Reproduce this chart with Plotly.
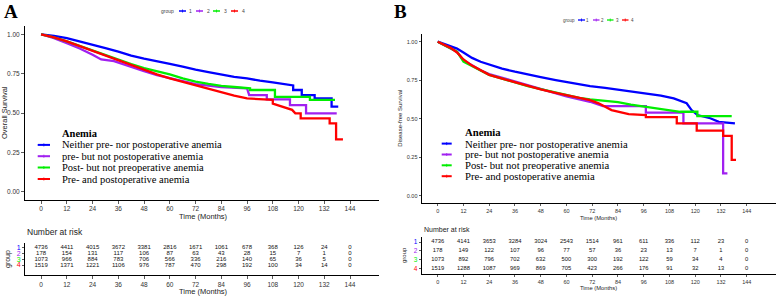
import plotly.graph_objects as go

W, H = 777, 298

# ---------------- data ----------------
groups = ["1", "2", "3", "4"]
colors = ["#0000FF", "#A020F0", "#00EE00", "#FF0000"]
legend_labels = ["Neither pre- nor postoperative anemia",
                 "pre- but not postoperative anemia",
                 "Post- but not preoperative anemia",
                 "Pre- and postoperative anemia"]
tick_months = [0, 12, 24, 36, 48, 60, 72, 84, 96, 108, 120, 132, 144]
surv_ticks = [0.0, 0.25, 0.5, 0.75, 1.0]
surv_tick_text = ["0.00", "0.25", "0.50", "0.75", "1.00"]

# Panel A: overall survival (time, survival)
os_t1 = [0, 6, 12, 18, 24, 30, 36, 42, 48, 54, 60, 66, 72, 78, 84, 90, 96, 102, 108, 114, 117.5, 117.5, 121.5, 121.5, 127.5, 127.5, 135.4, 135.4, 138.5]
os_s1 = [1.0, 0.99, 0.975, 0.955, 0.935, 0.912, 0.89, 0.865, 0.845, 0.83, 0.812, 0.795, 0.775, 0.76, 0.745, 0.73, 0.72, 0.705, 0.695, 0.68, 0.675, 0.646, 0.646, 0.614, 0.614, 0.593, 0.593, 0.54, 0.54]
os_t2 = [0, 6, 12, 18, 24, 28, 34, 38, 42, 48, 54, 60, 66, 72, 84, 96, 97, 105.2, 105.2, 116, 116, 123.5, 123.5, 137.8]
os_s2 = [1.0, 0.975, 0.943, 0.91, 0.87, 0.84, 0.83, 0.81, 0.79, 0.765, 0.74, 0.72, 0.70, 0.683, 0.665, 0.657, 0.614, 0.614, 0.587, 0.587, 0.55, 0.55, 0.498, 0.498]
os_t3 = [0, 6, 12, 18, 24, 30, 36, 42, 48, 54, 60, 66, 72, 78, 84, 90, 97.4, 97.4, 109, 109, 125.3, 125.3, 137]
os_s3 = [1.0, 0.98, 0.955, 0.925, 0.895, 0.868, 0.84, 0.81, 0.785, 0.765, 0.745, 0.72, 0.70, 0.685, 0.672, 0.665, 0.657, 0.646, 0.646, 0.603, 0.603, 0.583, 0.583]
os_t4 = [0, 6, 12, 18, 24, 30, 36, 42, 48, 54, 60, 66, 72, 78, 84, 90, 96, 102, 108, 108, 112, 117, 118.5, 121, 121, 134.5, 134.5, 137.5, 137.5, 140.7]
os_s4 = [1.0, 0.98, 0.955, 0.925, 0.895, 0.865, 0.835, 0.80, 0.775, 0.745, 0.72, 0.698, 0.68, 0.655, 0.635, 0.61, 0.593, 0.588, 0.583, 0.56, 0.54, 0.52, 0.498, 0.498, 0.466, 0.466, 0.434, 0.434, 0.333, 0.333]

# Panel B: disease-free survival
dfs_t1 = [0, 3, 6, 9, 12, 16, 20, 24, 30, 36, 42, 48, 55, 60, 66, 71, 78, 84, 90, 97, 104, 110, 116, 118.3, 121, 127, 131, 138.5]
dfs_s1 = [1.0, 0.985, 0.97, 0.955, 0.93, 0.895, 0.87, 0.85, 0.825, 0.805, 0.785, 0.77, 0.751, 0.738, 0.722, 0.712, 0.70, 0.688, 0.678, 0.665, 0.65, 0.632, 0.60, 0.556, 0.524, 0.503, 0.48, 0.47]
dfs_t2 = [0, 3, 6, 9, 12, 16, 20, 24, 30, 36, 42, 48, 55, 60, 66, 71, 77, 97, 97, 114.5, 114.5, 133, 133, 135]
dfs_s2 = [1.0, 0.98, 0.96, 0.935, 0.88, 0.845, 0.815, 0.79, 0.765, 0.74, 0.715, 0.69, 0.665, 0.645, 0.625, 0.61, 0.582, 0.582, 0.539, 0.539, 0.47, 0.47, 0.145, 0.145]
dfs_t3 = [0, 3, 6, 9, 12, 14, 17, 20, 24, 30, 36, 42, 48, 55, 60, 66, 71, 78, 84, 90, 97, 103, 107, 113, 121, 121, 137]
dfs_s3 = [1.0, 0.98, 0.96, 0.935, 0.87, 0.855, 0.835, 0.81, 0.785, 0.76, 0.735, 0.712, 0.692, 0.669, 0.655, 0.635, 0.626, 0.615, 0.607, 0.592, 0.578, 0.565, 0.556, 0.545, 0.545, 0.517, 0.517]
dfs_t4 = [0, 3, 6, 9, 12, 16, 20, 24, 30, 36, 42, 48, 55, 60, 66, 71, 75, 81, 89, 97, 97, 111.4, 111.4, 120.7, 120.7, 133, 133, 137, 137, 139]
dfs_s4 = [1.0, 0.98, 0.96, 0.93, 0.885, 0.845, 0.815, 0.785, 0.76, 0.735, 0.712, 0.69, 0.668, 0.652, 0.632, 0.62, 0.60, 0.556, 0.53, 0.524, 0.51, 0.51, 0.47, 0.47, 0.422, 0.422, 0.388, 0.388, 0.232, 0.232]

# Numbers at risk
os_risk1 = [4736, 4411, 4015, 3672, 3381, 2816, 1671, 1061, 678, 368, 126, 24, 0]
os_risk2 = [178, 154, 131, 117, 106, 87, 63, 43, 28, 15, 7, 1, 0]
os_risk3 = [1073, 966, 884, 783, 706, 566, 336, 216, 140, 65, 36, 5, 0]
os_risk4 = [1519, 1371, 1221, 1106, 976, 787, 470, 298, 192, 100, 34, 14, 0]
dfs_risk1 = [4736, 4141, 3653, 3284, 3024, 2543, 1514, 961, 611, 336, 112, 23, 0]
dfs_risk2 = [178, 149, 122, 107, 96, 77, 57, 36, 23, 13, 7, 1, 0]
dfs_risk3 = [1073, 892, 796, 702, 632, 500, 300, 192, 122, 59, 34, 4, 0]
dfs_risk4 = [1519, 1288, 1087, 969, 869, 705, 423, 266, 176, 91, 32, 13, 0]

# ---------------- helpers ----------------
SANS = "Liberation Sans, Arial, sans-serif"
SERIF = "Liberation Serif, Times New Roman, serif"


def px(x):
    return x / W


def py(y):
    return 1 - y / H


fig = go.Figure()

os_curves = [(os_t1, os_s1), (os_t2, os_s2), (os_t3, os_s3), (os_t4, os_s4)]
dfs_curves = [(dfs_t1, dfs_s1), (dfs_t2, dfs_s2), (dfs_t3, dfs_s3), (dfs_t4, dfs_s4)]
os_risk = [os_risk1, os_risk2, os_risk3, os_risk4]
dfs_risk = [dfs_risk1, dfs_risk2, dfs_risk3, dfs_risk4]

for (t, s), c in zip(os_curves, colors):
    fig.add_trace(go.Scatter(x=t, y=s, mode="lines", line=dict(color=c, width=2.3),
                             xaxis="x", yaxis="y", showlegend=False, hoverinfo="skip"))
for (t, s), c in zip(dfs_curves, colors):
    fig.add_trace(go.Scatter(x=t, y=s, mode="lines", line=dict(color=c, width=2.3),
                             xaxis="x3", yaxis="y3", showlegend=False, hoverinfo="skip"))

# risk tables: group 1 on top (row 4) down to group 4 (row 1)
for i, vals in enumerate(os_risk):
    fig.add_trace(go.Scatter(x=tick_months, y=[4 - i] * len(vals), mode="text",
                             text=[str(v) for v in vals],
                             textfont=dict(family=SANS, size=6, color="#111"),
                             xaxis="x2", yaxis="y2", showlegend=False, hoverinfo="skip"))
for i, vals in enumerate(dfs_risk):
    fig.add_trace(go.Scatter(x=tick_months, y=[4 - i] * len(vals), mode="text",
                             text=[str(v) for v in vals],
                             textfont=dict(family=SANS, size=5.8, color="#111"),
                             xaxis="x4", yaxis="y4", showlegend=False, hoverinfo="skip"))

axis_common = dict(showgrid=False, zeroline=False, showline=True, linecolor="black",
                   linewidth=1, ticks="outside", ticklen=3, tickcolor="#333", tickwidth=0.8,
                   automargin=False)
axis_b = {**axis_common, "ticklen": 2}

group_ticktext = ['<span style="color:%s">%s</span>' % (c, g) for c, g in zip(colors, groups)]

fig.update_layout(
    width=W, height=H, margin=dict(l=0, r=0, t=0, b=0, pad=0, autoexpand=False),
    paper_bgcolor="white", plot_bgcolor="white", showlegend=False,
    font=dict(family=SANS, color="#333"),
    xaxis=dict(domain=[px(25), px(379)], range=[-7.5, 157.5], tickvals=tick_months,
               tickfont=dict(size=6.5, color="#333"), anchor="y", **axis_common),
    yaxis=dict(domain=[py(199.6), py(26.4)], range=[-0.05, 1.05], tickvals=surv_ticks,
               ticktext=surv_tick_text, tickfont=dict(size=6.5, color="#333"), anchor="x", **axis_common),
    xaxis2=dict(domain=[px(25), px(379)], range=[-7.5, 157.5], tickvals=tick_months,
                tickfont=dict(size=6.5, color="#333"), anchor="y2", **axis_common),
    yaxis2=dict(domain=[py(275), py(243)], range=[-0.7, 4.75], tickvals=[4, 3, 2, 1],
                ticktext=group_ticktext, tickfont=dict(size=7), anchor="x2",
                **{**axis_common, "ticklen": 2}),
    xaxis3=dict(domain=[px(421.6), px(775.7)], range=[-7.5, 157.5], tickvals=tick_months,
                tickfont=dict(size=5.5, color="#333"), anchor="y3", **axis_b),
    yaxis3=dict(domain=[py(203.4), py(34)], range=[-0.05, 1.05], tickvals=surv_ticks,
                ticktext=surv_tick_text, tickfont=dict(size=5.5, color="#333"), anchor="x3", **axis_b),
    xaxis4=dict(domain=[px(421.6), px(775.7)], range=[-7.5, 157.5], tickvals=tick_months,
                tickfont=dict(size=5.5, color="#333"), anchor="y4", **axis_b),
    yaxis4=dict(domain=[py(274.3), py(236.7)], range=[0.35, 4.6], tickvals=[4, 3, 2, 1],
                ticktext=group_ticktext, tickfont=dict(size=6.5), anchor="x4", **axis_b),
)

annotations = []
shapes = []


def ann(x, y, text, size, family=SANS, color="#222", xanchor="center", angle=0, bold=False):
    if bold:
        text = "<b>%s</b>" % text
    annotations.append(dict(x=px(x), y=py(y), xref="paper", yref="paper", text=text,
                            showarrow=False, xanchor=xanchor, yanchor="middle",
                            textangle=angle, font=dict(family=family, size=size, color=color)))


def key(x0, x1, y, color, width=2):
    shapes.append(dict(type="line", xref="paper", yref="paper", x0=px(x0), x1=px(x1),
                       y0=py(y), y1=py(y), line=dict(color=color, width=width)))
    xm = (x0 + x1) / 2
    shapes.append(dict(type="line", xref="paper", yref="paper", x0=px(xm), x1=px(xm),
                       y0=py(y - 1.5), y1=py(y + 1.5), line=dict(color=color, width=0.8)))


# panel letters
ann(11, 12, "A", 19, family=SERIF, color="black", bold=True)
ann(400, 11, "B", 19, family=SERIF, color="black", bold=True)

# axis titles
ann(5, 113, "Overall Survival", 7.5, angle=-90)
ann(204, 216.5, "Time (Months)", 7.5)
ann(400, 118.7, "Disease-free Survival", 6, angle=-90)
ann(598.6, 217.5, "Time (Months)", 5.8)

# risk table titles
ann(25, 231.5, "Number at risk", 8.5, xanchor="left")
ann(8, 259, "group", 7, angle=-90)
ann(204, 291.5, "Time (Months)", 7.5)
ann(421.7, 229.3, "Number at risk", 7, xanchor="left")
ann(404, 255, "group", 6, angle=-90)
ann(598.6, 288, "Time (Months)", 5.8)

# top legends
ann(167.5, 11, "group", 5, color="#444")
top_a = [(179, 186, 190.5), (196, 203, 208), (213, 220, 225.5), (231, 238, 243.3)]
for (x0, x1, xt), c, g in zip(top_a, colors, groups):
    key(x0, x1, 11, c, 1.5)
    ann(xt, 11, g, 5, color="#444")
ann(569, 20, "group", 4.5, color="#444")
top_b = [(578, 585, 587.8), (593, 599.5, 602.7), (607, 613.5, 617.7), (622, 628.5, 632.3)]
for (x0, x1, xt), c, g in zip(top_b, colors, groups):
    key(x0, x1, 20, c, 1.3)
    ann(xt, 20, g, 4.5, color="#444")

# inner legends
ann(60, 133.8, "Anemia", 10.5, family=SERIF, color="black", xanchor="left", bold=True)
for yk, c, lab in zip([144.9, 156.2, 167.5, 179], colors, legend_labels):
    key(37.7, 50, yk, c, 2)
    ann(60, yk, lab, 10.5, family=SERIF, color="black", xanchor="left")
ann(462.7, 132.2, "Anemia", 10.7, family=SERIF, color="black", xanchor="left", bold=True)
for yk, c, lab in zip([143.6, 154.5, 165.3, 176.2], colors, legend_labels):
    key(441.7, 451.7, yk, c, 2)
    ann(462.7, yk, lab, 10.7, family=SERIF, color="black", xanchor="left")

fig.update_layout(annotations=annotations, shapes=shapes)
fig.write_html("out.html", config={"displayModeBar": False, "staticPlot": True},
               post_script="document.body.style.margin='0';document.body.style.padding='0';")
